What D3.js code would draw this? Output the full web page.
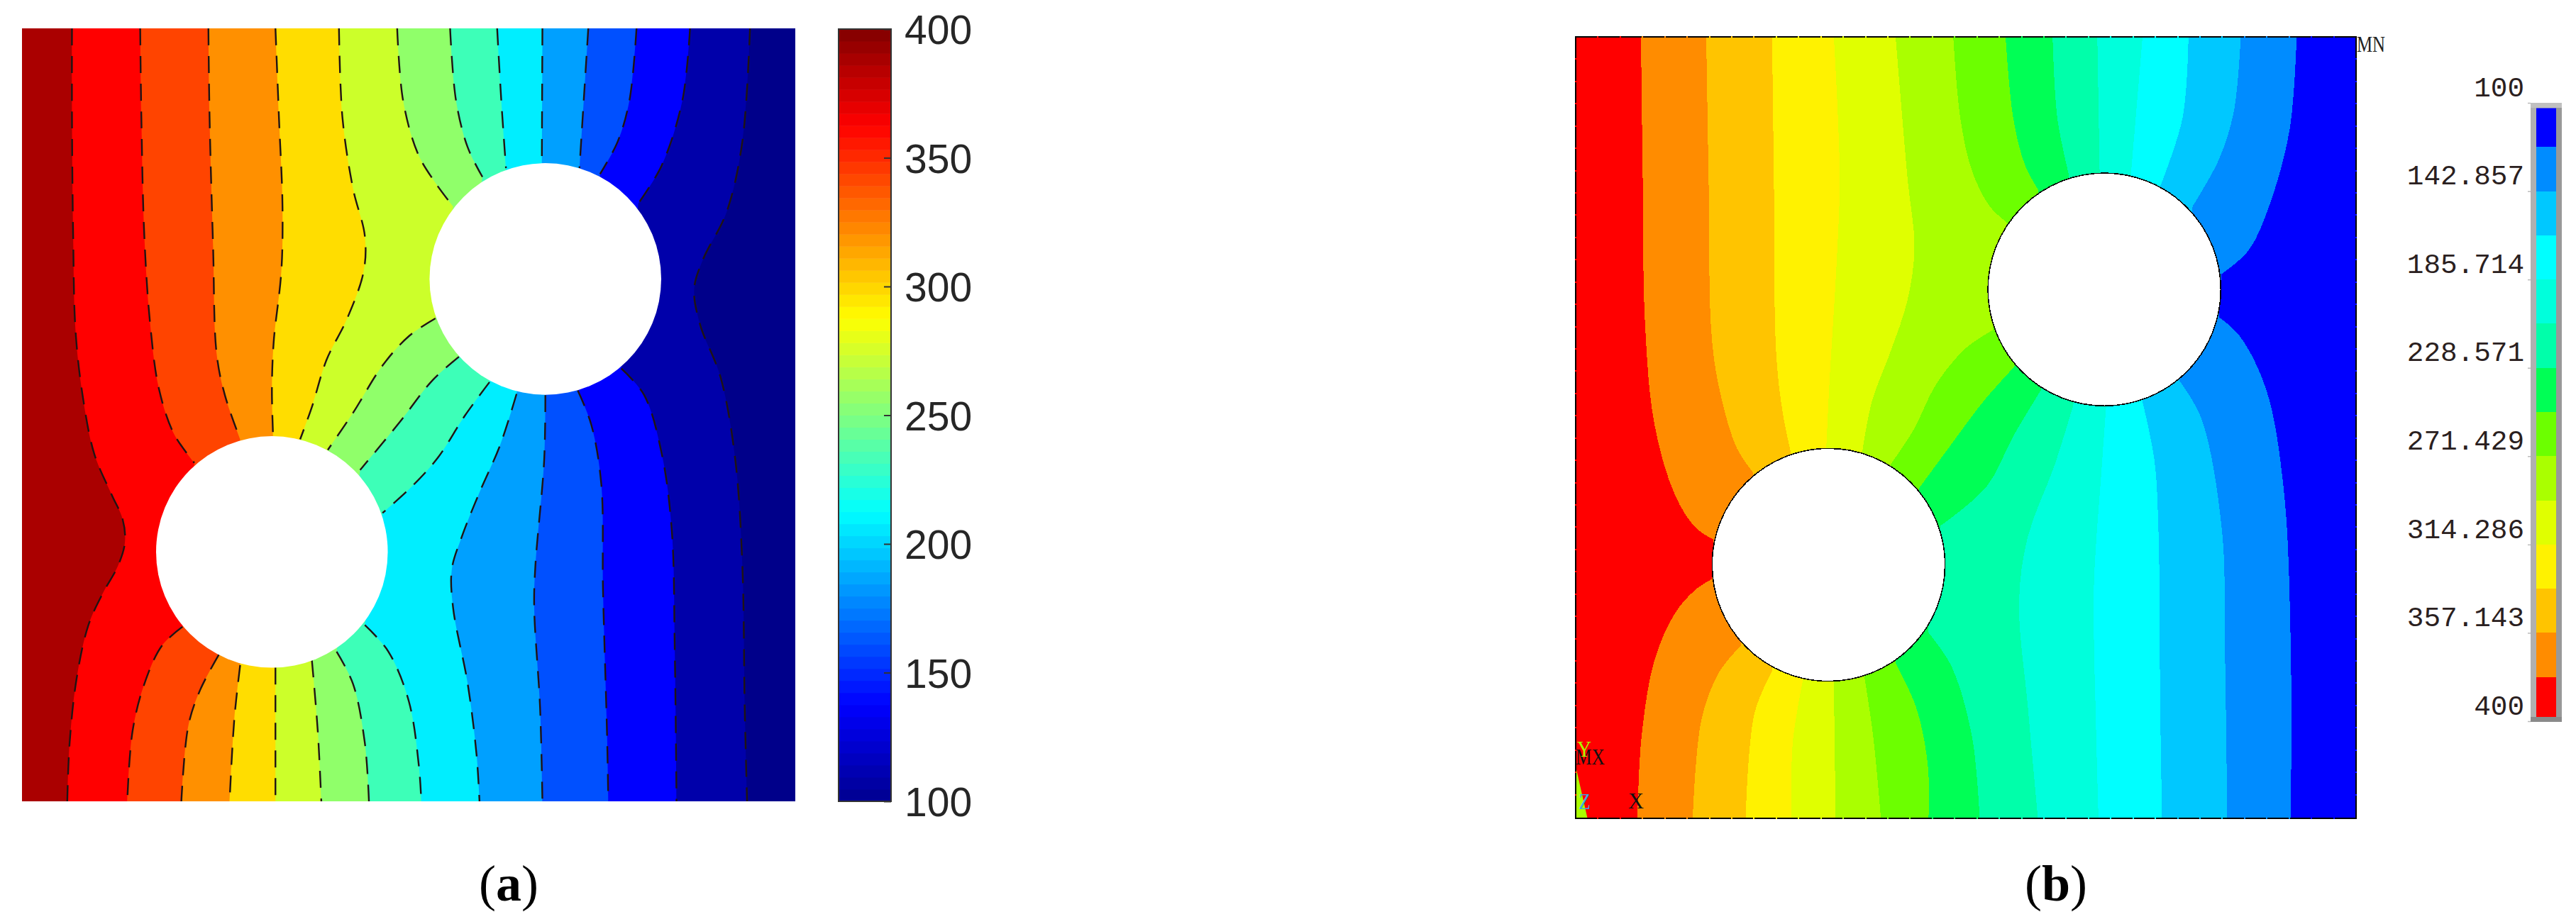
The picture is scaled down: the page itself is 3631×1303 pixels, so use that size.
<!DOCTYPE html>
<html>
<head>
<meta charset="utf-8">
<script src="https://d3js.org/d3.v7.min.js"></script>
<style>
  html, body { margin: 0; background: #fff; }
  svg { display: block; }
</style>
</head>
<body>
<div id="app"></div>
<script>
// contour lines, left to right, top edge to bottom edge.
// a line is split into runs where it enters a hole
const boundariesA = [
  [[[122,48],[122,200],[124,400],[128,560],[140,670],[160,770],[190,840],[208,880],[212,920],[200,960],[175,1005],[150,1060],[130,1150],[118,1260],[114,1359]]],
  [[[238,48],[240,200],[245,400],[255,550],[270,660],[295,735],[330,785]],[[310,1063],[275,1095],[245,1160],[225,1240],[216,1359]]],
  [[[354,48],[356,200],[362,420],[368,600],[382,670],[408,745]],[[372,1110],[340,1170],[320,1230],[308,1359]]],
  [[[468,48],[474,200],[480,350],[478,460],[465,580],[462,660],[464,740]],[[408,1128],[398,1220],[390,1359]]],
  [[[576,48],[582,200],[600,320],[620,400],[618,460],[590,540],[555,610],[530,690],[510,745]],[[468,1132],[468,1359]]],
  [[[675,48],[685,170],[710,260],[740,310],[770,350]],[[740,540],[695,570],[650,620],[600,700],[557,763]],[[530,1120],[540,1240],[546,1359]]],
  [[[765,48],[775,170],[795,250],[820,300]],[[780,605],[735,645],[680,715],[612,797]],[[572,1105],[600,1160],[620,1260],[627,1359]]],
  [[[845,48],[852,170],[860,285]],[[832,648],[790,705],[745,775],[700,825],[650,870]],[[620,1060],[660,1105],[695,1190],[712,1300],[716,1359]]],
  [[[922,48],[921,275]],[[878,668],[850,755],[815,835],[785,910],[768,965],[770,1030],[795,1160],[810,1280],[815,1359]]],
  [[[1000,48],[985,285]],[[927,670],[925,780],[910,960],[908,1030],[918,1200],[922,1359]]],
  [[[1082,48],[1070,170],[1050,240],[1020,295]],[[982,662],[1005,720],[1022,820],[1025,1000],[1032,1250],[1034,1359]]],
  [[[1173,48],[1160,170],[1125,280],[1085,345]],[[1056,625],[1095,670],[1125,770],[1142,900],[1147,1100],[1150,1359]]],
  [[[1275,48],[1262,240],[1235,360],[1195,440],[1180,490],[1190,550],[1225,640],[1250,780],[1262,960],[1266,1200],[1270,1359]]]
];
const boundariesB = [
  [[[317,62],[320,300],[324,550],[340,720],[375,840],[410,895],[440,915]],[[438,982],[410,1000],[375,1040],[340,1120],[318,1250],[311,1388]]],
  [[[428,62],[432,300],[438,580],[455,680],[480,760],[508,802]],[[487,1095],[450,1140],[420,1220],[405,1388]]],
  [[[540,62],[543,300],[547,600],[558,700],[572,768]],[[540,1138],[510,1210],[495,1388]]],
  [[[645,62],[655,300],[650,440],[638,640],[632,762]],[[592,1155],[575,1260],[573,1388]]],
  [[[750,62],[770,300],[782,420],[770,510],[740,600],[710,680],[694,762]],[[645,1158],[648,1388]]],
  [[[848,62],[860,200],[880,290],[910,350],[940,378]],[[915,560],[870,590],[820,650],[780,730],[742,787]],[[697,1148],[712,1250],[725,1388]]],
  [[[937,62],[950,200],[970,280],[993,323]],[[952,622],[900,680],[840,760],[790,828]],[[750,1125],[785,1200],[805,1300],[806,1388]]],
  [[[1017,62],[1025,200],[1045,298]],[[997,662],[950,740],[905,825],[826,892]],[[805,1072],[845,1130],[880,1250],[893,1388]]],
  [[[1093,62],[1097,293]],[[1052,688],[1020,790],[975,910],[960,1020],[975,1200],[992,1388]]],
  [[[1170,62],[1150,298]],[[1108,690],[1100,800],[1087,1000],[1090,1200],[1095,1388]]],
  [[[1248,62],[1238,200],[1200,316]],[[1170,682],[1190,780],[1197,900],[1200,1200],[1203,1388]]],
  [[[1337,62],[1325,190],[1300,270],[1255,350]],[[1232,645],[1270,710],[1305,900],[1310,1100],[1314,1388]]],
  [[[1432,62],[1420,220],[1385,350],[1350,425],[1304,465]],[[1300,538],[1335,570],[1380,660],[1410,830],[1422,1100],[1422,1388]]]
];

// holes: centre x, centre y, radius, same digitising grid
const holesA = [[927,473,197],[462,936,197]];
const holesB = [[1105,491,198],[636,958,198]];

// band colours, left to right
const bandsA = ["#aa0000","#ff0000","#ff4400","#ff9000","#ffdd00","#ccff2a","#90ff6a","#3dffb8","#00eeff","#00a0ff","#0050ff","#0000ff","#0000aa","#00008a"];
const bandsB = ["#ff0000","#ff8c00","#ffc400","#fff200","#e0ff00","#aaff00","#6cff00","#00ff55","#00ffaa","#00ffdc","#00ffff","#00c8ff","#008cff","#0000ff"];

const colorbarTicks = [100,150,200,250,300,350,400];
const jetValues = [100,137.5,212.5,287.5,362.5,400];
const jetColors = ["#00008f","#0000ff","#00ffff","#ffff00","#ff0000","#800000"];
const legendValues = [100,142.857,185.714,228.571,271.429,314.286,357.143,400];
const legendLabels = ["100","142.857","185.714","228.571","271.429","314.286","357.143","400"];

const svg = d3.select("#app").append("svg").attr("width", 3631).attr("height", 1303);

//draw one contour panel
const drawField = (frame, bands, boundaries, holes) => {
  const x = d3.scaleLinear().domain(frame.xDomain).range(frame.xRange);
  const y = d3.scaleLinear().domain(frame.yDomain).range(frame.yRange);
  const g = svg.append("g");
  const clipId = "clip" + frame.id;
  g.append("clipPath").attr("id", clipId).append("rect")
    .attr("x", frame.xRange[0]).attr("y", frame.yRange[0])
    .attr("width", frame.xRange[1] - frame.xRange[0])
    .attr("height", frame.yRange[1] - frame.yRange[0]);

  const field = g.append("g").attr("clip-path", `url(#${clipId})`).attr("shape-rendering", frame.rendering);
  field.append("rect")
    .attr("x", frame.xRange[0]).attr("y", frame.yRange[0])
    .attr("width", frame.xRange[1] - frame.xRange[0])
    .attr("height", frame.yRange[1] - frame.yRange[0])
    .style("fill", bands[0]);

  const line = d3.line().x((d) => x(d[0])).y((d) => y(d[1])).curve(d3.curveCatmullRom.alpha(0.5));
  // runs are joined straight across the holes for the fill
  const joined = (runs) => "M" + runs.map(line).join("").replace(/M/g, "L").slice(1);
  // paint each band from its left boundary over to the right edge
  field.selectAll(".band").data(boundaries).enter().append("path")
    .attr("class", "band")
    .attr("d", (d) => joined(d) + `L${frame.xRange[1] + 5},${frame.yRange[1] + 5}L${frame.xRange[1] + 5},${frame.yRange[0] - 5}Z`)
    .style("fill", (d, i) => bands[i + 1]);

  if (frame.dashed) {
    field.selectAll(".contour").data(boundaries.flat()).enter().append("path")
      .attr("class", "contour")
      .attr("d", line)
      .style("fill", "none")
      .style("stroke", "#201414")
      .style("stroke-width", 2.4)
      .style("stroke-dasharray", "24 15");
  }
  const rx = (frame.xRange[1] - frame.xRange[0]) / (frame.xDomain[1] - frame.xDomain[0]);
  field.selectAll(".hole").data(holes).enter().append("circle")
    .attr("class", "hole")
    .attr("cx", (d) => x(d[0])).attr("cy", (d) => y(d[1])).attr("r", (d) => d[2] * rx)
    .style("fill", "#fff")
    .style("stroke", frame.dashed ? "none" : "#000")
    .style("stroke-width", 1.6);
  return { g, x, y };
};

// panel (a)
const frameA = { id: "A", xDomain: [37,1352], xRange: [31,1121], yDomain: [48,1359], yRange: [40,1130], dashed: true, rendering: "auto" };
drawField(frameA, bandsA, boundariesA, holesA);

// colorbar (a)
const barX = 1182, barW = 74;
const barY = d3.scaleLinear().domain([100,400]).range([1130,41]);
const jet = d3.scaleLinear().domain(jetValues).range(jetColors);
const barSteps = d3.range(64);
const stepH = (barY(100) - barY(400)) / 64;
svg.append("g").selectAll("rect").data(barSteps).enter().append("rect")
  .attr("x", barX).attr("width", barW)
  .attr("y", (d) => barY(100) - (d + 1) * stepH).attr("height", stepH + 0.5)
  .style("fill", (d) => jet(100 + (d + 0.5) * 300 / 64));
svg.append("rect").attr("x", barX).attr("y", barY(400)).attr("width", barW).attr("height", barY(100) - barY(400))
  .style("fill", "none").style("stroke", "#333").style("stroke-width", 2);
const barAxis = svg.append("g").attr("transform", `translate(${barX + barW},0)`)
  .call(d3.axisRight(barY).tickValues(colorbarTicks).tickSizeInner(-10).tickSizeOuter(0).tickPadding(19));
barAxis.select(".domain").remove();
barAxis.selectAll("line").style("stroke", "#333").style("stroke-width", 2);
barAxis.selectAll("text").attr("dy", "0.36em").style("font-family", "Liberation Sans").style("font-size", "57px").style("fill", "#262626");

// panel (b)
const frameB = { id: "B", xDomain: [206,1533], xRange: [2221,3321], yDomain: [62,1388], yRange: [51.5,1154], dashed: false, rendering: "crispEdges" };
const panelB = drawField(frameB, bandsB, boundariesB, holesB);
// triad sliver in the corner
panelB.g.append("path")
  .attr("d", d3.line()([[panelB.x(206),panelB.y(1300)],[panelB.x(226),panelB.y(1388)],[panelB.x(206),panelB.y(1388)]]) + "Z")
  .style("fill", "#aaff00");
panelB.g.append("rect")
  .attr("x", 2221).attr("y", 52).attr("width", 1100).attr("height", 1102)
  .style("fill", "none").style("stroke", "#000").style("stroke-width", 2);

// mesh nodes show as small coloured breaks in the outline
const nodeIndex = d3.range(1, 35);
const nodeStep = 1100 / 35;
const bandAt = (px, end) => {
  const gx = panelB.x.invert(px);
  const i = boundariesB.filter((b) => (end === 0 ? b[0][0][0] : b[b.length - 1].slice(-1)[0][0]) < gx).length;
  return bandsB[i];
};
const nodes = panelB.g.append("g").attr("shape-rendering", "crispEdges");
[[52, 0], [1154, 1]].forEach(([edgeY, end]) => {
  nodes.append("g").selectAll("rect").data(nodeIndex).enter().append("rect")
    .attr("x", (d) => 2221 + d * nodeStep - 1).attr("y", edgeY - 1).attr("width", 2).attr("height", 2)
    .style("fill", (d) => bandAt(2221 + d * nodeStep, end));
});
[[2221, bandsB[0]], [3321, bandsB[13]]].forEach(([edgeX, color]) => {
  nodes.append("g").selectAll("rect").data(nodeIndex).enter().append("rect")
    .attr("x", edgeX - 1).attr("y", (d) => 52 + d * nodeStep - 1).attr("width", 2).attr("height", 2)
    .style("fill", color);
});

const triad = [
  { text: "MX", x: 2221, y: 1078, w: 41, fill: "#111" },
  { text: "Y", x: 2223, y: 1067, w: 20, fill: "#aaff00" },
  { text: "Z", x: 2225, y: 1141, w: 17, fill: "#3fa9e0" },
  { text: "X", x: 2295, y: 1140, w: 22, fill: "#111" },
  { text: "MN", x: 3322, y: 73, w: 40, fill: "#222" }
];
svg.append("g").selectAll("text").data(triad).enter().append("text")
  .attr("x", (d) => d.x).attr("y", (d) => d.y)
  .attr("textLength", (d) => d.w).attr("lengthAdjust", "spacingAndGlyphs")
  .style("font-family", "Liberation Serif").style("font-size", "31px")
  .style("fill", (d) => d.fill).text((d) => d.text);

// legend (b)
const legendY = d3.scaleLinear().domain([100,400]).range([145,1017]);
const legendX = 3567;
const legend = svg.append("g").attr("shape-rendering", "crispEdges");
legend.append("rect").attr("x", legendX).attr("y", 145).attr("width", 44).attr("height", 873).style("fill", "#b0b0b0");
legend.append("rect").attr("x", 3603).attr("y", 145).attr("width", 8).attr("height", 873).style("fill", "#999");
legend.append("rect").attr("x", legendX).attr("y", 1011).attr("width", 44).attr("height", 7).style("fill", "#8a8a8a");
legend.append("rect").attr("x", legendX).attr("y", 145).attr("width", 44).attr("height", 7).style("fill", "#c0c0c0");
const legendBands = bandsB.slice().reverse();
const clipLegend = legend.append("clipPath").attr("id", "clipLegend");
clipLegend.append("rect").attr("x", 3575).attr("y", 152.5).attr("width", 28).attr("height", 858.5);
legend.append("g").attr("clip-path", "url(#clipLegend)").selectAll("rect").data(legendBands).enter().append("rect")
  .attr("x", 3575).attr("width", 28)
  .attr("y", (d, i) => legendY(100 + i * 300 / 14))
  .attr("height", 300 / 14 * (872 / 300) + 0.5)
  .style("fill", (d) => d);
const legendAxis = svg.append("g").attr("transform", `translate(${legendX},0)`)
  .call(d3.axisLeft(legendY).tickValues(legendValues).tickFormat((d, i) => legendLabels[i]).tickSizeInner(4).tickSizeOuter(0).tickPadding(5));
legendAxis.select(".domain").remove();
legendAxis.selectAll("line").style("stroke", "#bbb").style("stroke-width", 1.5);
legendAxis.selectAll("text")
  .attr("y", -22).attr("dy", "0.32em")
  .attr("textLength", (d, i) => legendLabels[i].length * 23.6).attr("lengthAdjust", "spacingAndGlyphs")
  .style("font-family", "Liberation Mono").style("font-size", "38px").style("fill", "#2a2020");

// captions
const captions = [{ letter: "a", x: 717 }, { letter: "b", x: 2898 }];
const caption = svg.append("g").selectAll("text").data(captions).enter().append("text")
  .attr("x", (d) => d.x).attr("y", 1270).attr("text-anchor", "middle")
  .style("font-family", "Liberation Serif").style("font-size", "72px").style("fill", "#000");
caption.append("tspan").text("(");
caption.append("tspan").style("font-weight", "bold").text((d) => d.letter);
caption.append("tspan").text(")");
</script>
</body>
</html>
